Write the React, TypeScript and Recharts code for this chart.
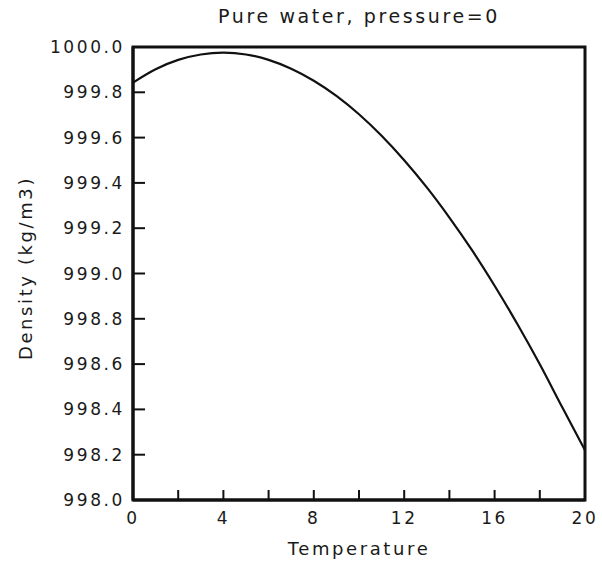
import { LineChart, Line, XAxis, YAxis, ReferenceArea } from "recharts";

// temperature (deg C) and density of pure water at pressure 0
const temperature = [0, 1, 2, 3, 4, 5, 6, 7, 8, 9, 10, 11, 12, 13, 14, 15, 16, 17, 18, 19, 20];
const density = [
  999.843, 999.902, 999.943, 999.967, 999.975, 999.967, 999.943, 999.904, 999.851, 999.784,
  999.703, 999.608, 999.5, 999.38, 999.247, 999.103, 998.946, 998.778, 998.599, 998.408, 998.22,
];
const xTicks = [0, 2, 4, 6, 8, 10, 12, 14, 16, 18, 20];
const yTicks = [998.0, 998.2, 998.4, 998.6, 998.8, 999.0, 999.2, 999.4, 999.6, 999.8, 1000.0];

const data = temperature.map((t, i) => ({ t, d: density[i] }));

const FONT = "'DejaVu Sans', sans-serif";
const textStyle = { fontFamily: FONT, fontSize: 17, letterSpacing: 2.6, fill: "#1a1a1a" };

const XTick = (props: any) => {
  const { x, y, payload } = props;
  const v = payload.value;
  return (
    <g>
      <line x1={x} y1={y} x2={x} y2={y - 10} stroke="#111" strokeWidth={2} />
      {v % 4 === 0 && (
        <text x={x} y={y + 24} textAnchor="middle" style={textStyle}>
          {v}
        </text>
      )}
    </g>
  );
};

const YTick = (props: any) => {
  const { x, y, payload } = props;
  return (
    <g>
      <line x1={x} y1={y} x2={x + 12} y2={y} stroke="#111" strokeWidth={2} />
      <text x={x - 8} y={y + 6} textAnchor="end" style={textStyle}>
        {Number(payload.value).toFixed(1)}
      </text>
    </g>
  );
};

const labelStyle = {
  position: "absolute" as const,
  fontFamily: FONT,
  fontSize: 18,
  letterSpacing: 2.6,
  color: "#1a1a1a",
  whiteSpace: "nowrap" as const,
};

export default function App() {
  return (
    <div style={{ position: "absolute", left: 0, top: 0, width: 602, height: 567, background: "#fff" }}>
      <div style={{ ...labelStyle, left: 133, width: 452, top: 5, textAlign: "center", fontSize: 19 }}>
        Pure water, pressure=0
      </div>
      <div
        style={{
          ...labelStyle,
          left: 25,
          top: 268,
          transform: "translate(-50%, -50%) rotate(-90deg)",
        }}
      >
        Density (kg/m3)
      </div>
      <div style={{ ...labelStyle, left: 133, width: 452, top: 538, textAlign: "center" }}>
        Temperature
      </div>
      <LineChart width={602} height={567} data={data} margin={{ top: 47, right: 17, left: 0, bottom: 0 }}>
        <XAxis
          dataKey="t"
          type="number"
          domain={[0, 20]}
          ticks={xTicks}
          interval={0}
          height={67}
          tickSize={0}
          tickMargin={0}
          tickLine={false}
          axisLine={{ stroke: "#111", strokeWidth: 3 }}
          tick={<XTick />}
        />
        <YAxis
          type="number"
          domain={[998, 1000]}
          ticks={yTicks}
          interval={0}
          width={133}
          tickSize={0}
          tickMargin={0}
          tickLine={false}
          axisLine={{ stroke: "#111", strokeWidth: 3 }}
          tick={<YTick />}
        />
        <ReferenceArea x1={0} x2={20} y1={998} y2={1000} fill="none" stroke="#111" strokeWidth={3} />
        <Line
          dataKey="d"
          type="monotone"
          stroke="#111"
          strokeWidth={2.2}
          dot={false}
          isAnimationActive={false}
        />
      </LineChart>
    </div>
  );
}
